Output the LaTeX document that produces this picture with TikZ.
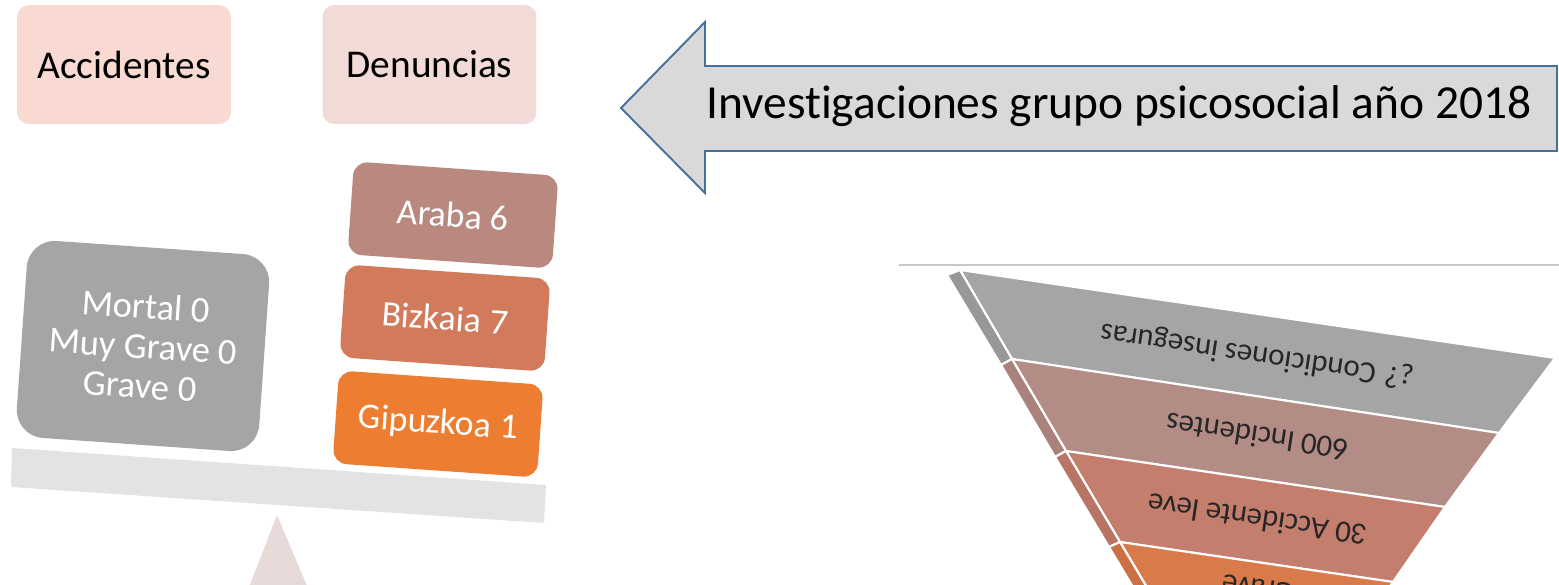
\documentclass[tikz,border=0pt]{standalone}
\usepackage{fontspec}
\setmainfont{Carlito}[Ligatures=NoCommon]
\definecolor{hacol}{HTML}{F8DAD3}
\definecolor{hdcol}{HTML}{F2DAD6}
\definecolor{grcol}{HTML}{A5A5A5}
\definecolor{arcol}{HTML}{B9887F}
\definecolor{bicol}{HTML}{D27A5C}
\definecolor{gicol}{HTML}{ED7D31}
\definecolor{bmcol}{HTML}{E3E3E3}
\definecolor{ftcol}{HTML}{E9DADA}
\definecolor{ttcol}{HTML}{D9D9D9}
\definecolor{tbcol}{HTML}{41719C}
\definecolor{fa}{HTML}{A5A5A5}
\definecolor{fas}{HTML}{989898}
\definecolor{fb}{HTML}{B38C86}
\definecolor{fbs}{HTML}{A9827B}
\definecolor{fc}{HTML}{C47E6E}
\definecolor{fcs}{HTML}{B87464}
\definecolor{fd}{HTML}{D97A4A}
\definecolor{fds}{HTML}{CB7043}
\begin{document}
\begin{tikzpicture}[x=0.02cm,y=-0.02cm]
\tikzstyle{hb} = [rounded corners=0.24cm,minimum width=4.28cm,minimum height=2.38cm,font=\fontsize{22.4}{27}\selectfont] %header box
\tikzstyle{cb} = [rounded corners=0.28cm,rotate=-4,minimum width=4.1cm,minimum height=1.86cm,text=white,font=\fontsize{20.4}{24}\selectfont] %count box
\tikzstyle{ft} = [rotate=171.5,font=\fontsize{17.6}{20}\selectfont,text=black!85] %funnel text
\tikzstyle{fe} = [draw=white,line width=1.2pt] %funnel edge
\useasboundingbox(0,0)rectangle(1559,585);
\clip(0,0)rectangle(1559,585);
% balance
\fill[ftcol](277,515)--(313,600)--(244,600)--cycle;
\fill[bmcol](12,448)--(546,485)--(544,523)--(11,487)--cycle;
\node[hb,fill=hacol](hacc)at(124,64.5){Accidentes};
\node[hb,fill=hdcol](hden)at(429.5,64.5){Denuncias};
\node[cb,fill=grcol,rounded corners=0.56cm,minimum width=4.86cm,minimum height=3.95cm,align=center,font=\fontsize{20.8}{22.7}\selectfont](bmor)at(143,346){Mortal 0\\Muy Grave 0\\Grave 0};
\node[cb,fill=arcol](bara)at(453,215){Araba 6};
\node[cb,fill=bicol](bbiz)at(445,318){Bizkaia 7};
\node[cb,fill=gicol](bgip)at(438,424){Gipuzkoa 1};
% arrow
\draw[fill=ttcol,draw=tbcol,line width=1.1pt,line join=miter](621,108)--(705,22)--(705,66)--(1557,66)--(1557,151)--(705,151)--(705,193)--cycle;
\node[font=\fontsize{27}{32}\selectfont](tinv)at(1119,106){Investigaciones grupo psicosocial año 2018};
% funnel
\draw[black!22,line width=0.6pt](899,265)--(1559,265);
\draw[fe,fill=fa](960,270)--(1555,358)--(1499,433)--(1012,359)--cycle;
\draw[fe,fill=fas](947,275)--(960,270)--(1012,359)--(1001,365)--cycle;
\draw[fe,fill=fb](1012,359)--(1499,433)--(1445,507)--(1066,451)--cycle;
\draw[fe,fill=fbs](1001,365)--(1012,359)--(1066,451)--(1055,457)--cycle;
\draw[fe,fill=fc](1066,451)--(1445,507)--(1393,582)--(1120,542)--cycle;
\draw[fe,fill=fcs](1055,457)--(1066,451)--(1120,542)--(1109,547)--cycle;
\draw[fe,fill=fd](1120,542)--(1393,582)--(1340,655)--(1174,633)--cycle;
\draw[fe,fill=fds](1109,547)--(1120,542)--(1174,633)--(1163,637)--cycle;
\node[ft](tcon)at(1257,355){¿? Condiciones inseguras};
\node[ft](tinc)at(1257,437){600 Incidentes};
\node[ft](tlev)at(1257,520){30 Accidente leve};
\node[ft](tgra)at(1258,589){Grave};
\end{tikzpicture}
\end{document}
